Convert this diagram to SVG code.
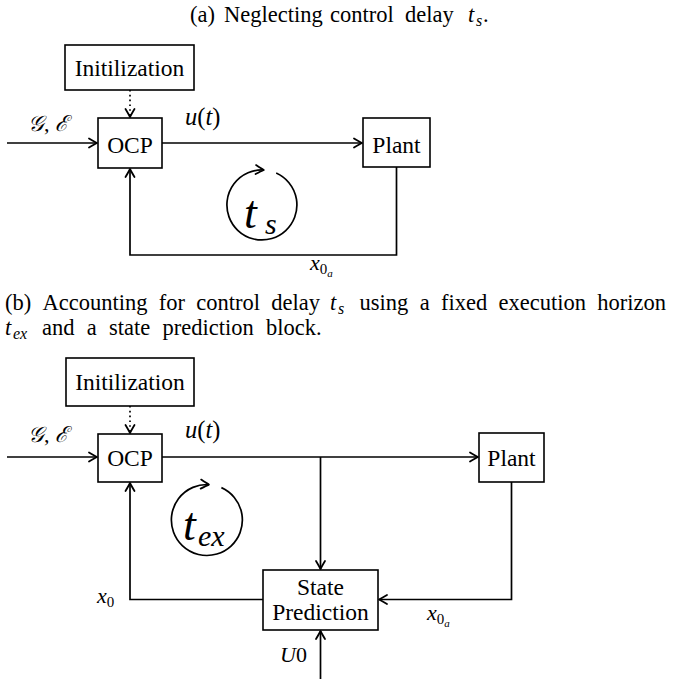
<svg xmlns="http://www.w3.org/2000/svg" width="676" height="679" viewBox="0 0 676 679" font-family="Liberation Serif, DejaVu Serif, Times New Roman, Times, serif">
<style>
.box{fill:#fff;stroke:#000;stroke-width:1.6}
.ln{fill:none;stroke:#000;stroke-width:1.7}
.dot{fill:none;stroke:#000;stroke-width:1.7;stroke-dasharray:1.6 3.2}
.lbl{font-size:23.5px;text-anchor:middle;fill:#000}
.cap{font-size:22.5px;fill:#000}
.m{font-style:italic;font-size:22px;fill:#000}
.u{font-style:italic;font-size:24.5px;fill:#000}
.up{font-style:normal}
.big{font-style:italic;fill:#000}
</style>
<defs>
<marker id="ah" markerUnits="userSpaceOnUse" markerWidth="14" markerHeight="14" viewBox="-10 -7 12 14" refX="0" refY="0" orient="auto">
<path d="M -8 -4.5 Q -2.5 -1.2 0 0 Q -2.5 1.2 -8 4.5" fill="none" stroke="#000" stroke-width="1.8" stroke-linecap="round" stroke-linejoin="round"/>
</marker>
</defs>
<rect width="676" height="679" fill="#fff"/>

<g id="captions">
<text class="cap" y="22"><tspan x="190">(a)</tspan><tspan x="224">Neglecting</tspan><tspan x="330">control</tspan><tspan x="405">delay</tspan><tspan x="468" font-style="italic">t</tspan><tspan x="476" dy="4" font-size="16" font-style="italic">s</tspan><tspan x="483" dy="-4">.</tspan></text>
<text class="cap" y="310"><tspan x="5">(b)</tspan><tspan x="42.5">Accounting</tspan><tspan x="158.8">for</tspan><tspan x="196.3">control</tspan><tspan x="271.3">delay</tspan><tspan x="330" font-style="italic">t</tspan><tspan x="338" dy="4" font-size="16" font-style="italic">s</tspan><tspan x="359.6" dy="-4">using</tspan><tspan x="419.7">a</tspan><tspan x="441">fixed</tspan><tspan x="498.5">execution</tspan><tspan x="597.3">horizon</tspan></text>
<text class="cap" y="335"><tspan x="5" font-style="italic">t</tspan><tspan x="13" dy="4" font-size="16" font-style="italic">ex</tspan><tspan x="42" dy="-4">and</tspan><tspan x="86.8">a</tspan><tspan x="109.1">state</tspan><tspan x="162.6">prediction</tspan><tspan x="266.1">block.</tspan></text>
</g>

<g id="connectors-a">
<path class="dot" d="M130 90 V117" marker-end="url(#ah)"/>
<path class="ln" d="M7 143 H97" marker-end="url(#ah)"/>
<path class="ln" d="M162 143 H362" marker-end="url(#ah)"/>
<path class="ln" d="M396.5 167 V255 H130 V169" marker-end="url(#ah)"/>
<path class="ln" d="M276.2 173 A35 35 0 1 1 263.8 170" marker-end="url(#ah)"/>
</g>

<g id="init-a"><rect class="box" x="65" y="45" width="129" height="45"/><text class="lbl" x="129.5" y="76">Initilization</text></g>
<g id="ocp-a"><rect class="box" x="98" y="118" width="64" height="50"/><text class="lbl" x="130" y="153">OCP</text></g>
<g id="plant-a"><rect class="box" x="363" y="118" width="67" height="49"/><text class="lbl" x="396.5" y="153">Plant</text></g>

<g id="labels-a">
<text class="m" x="28" y="131">𝒢<tspan class="up">,</tspan> ℰ</text>
<text class="u" x="185" y="125">u<tspan class="up">(</tspan>t<tspan class="up">)</tspan></text>
<text class="m" x="310" y="270">x<tspan class="up" font-size="15" dy="4">0</tspan><tspan font-size="11" dy="3">a</tspan></text>
<text class="big" x="244" y="228" font-size="46">t<tspan x="265" dy="6" font-size="30">s</tspan></text>
</g>

<g id="connectors-b">
<path class="dot" d="M130 406 V433" marker-end="url(#ah)"/>
<path class="ln" d="M7 457 H97" marker-end="url(#ah)"/>
<path class="ln" d="M162 457 H478" marker-end="url(#ah)"/>
<path class="ln" d="M320.5 457 V569" marker-end="url(#ah)"/>
<path class="ln" d="M511.5 482 V599.5 H379" marker-end="url(#ah)"/>
<path class="ln" d="M263 599.5 H130 V483" marker-end="url(#ah)"/>
<path class="ln" d="M320.5 679 V631" marker-end="url(#ah)"/>
<path class="ln" d="M221.4 487.6 A35.5 35.5 0 1 1 208.9 484.55" marker-end="url(#ah)"/>
</g>

<g id="init-b"><rect class="box" x="66" y="358" width="128" height="48"/><text class="lbl" x="130" y="390">Initilization</text></g>
<g id="ocp-b"><rect class="box" x="98" y="434" width="64" height="48"/><text class="lbl" x="130" y="466">OCP</text></g>
<g id="plant-b"><rect class="box" x="479" y="433" width="65" height="49"/><text class="lbl" x="511.5" y="466">Plant</text></g>
<g id="state-prediction"><rect class="box" x="263" y="570" width="115" height="60"/><text class="lbl" x="320.5" y="595">State</text><text class="lbl" x="320.5" y="620">Prediction</text></g>

<g id="labels-b">
<text class="m" x="28" y="442">𝒢<tspan class="up">,</tspan> ℰ</text>
<text class="u" x="185" y="438">u<tspan class="up">(</tspan>t<tspan class="up">)</tspan></text>
<text class="m" x="97" y="603">x<tspan class="up" font-size="15" dy="4">0</tspan></text>
<text class="m" x="427" y="620">x<tspan class="up" font-size="15" dy="4">0</tspan><tspan font-size="11" dy="3">a</tspan></text>
<text class="m" x="280" y="662">U<tspan class="up">0</tspan></text>
<text class="big" x="183" y="540" font-size="46">t<tspan x="198" dy="6" font-size="30">ex</tspan></text>
</g>
</svg>
